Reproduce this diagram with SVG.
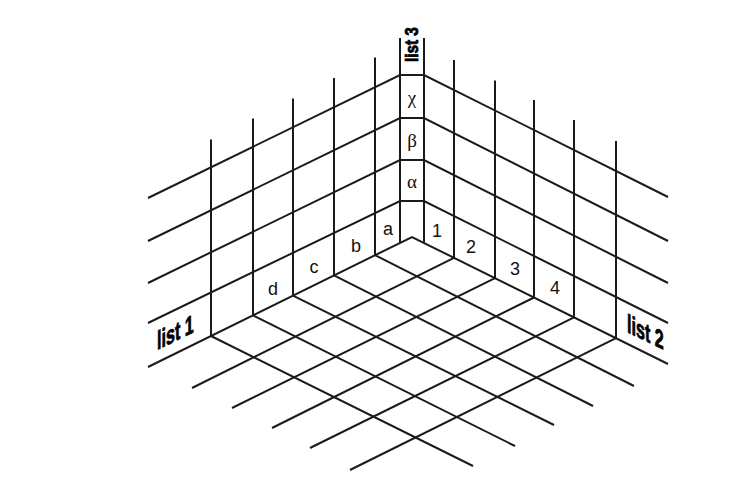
<svg xmlns="http://www.w3.org/2000/svg" width="754" height="497" viewBox="0 0 754 497">
<style>
.ln{fill:none;stroke:#1a1a1a;stroke-width:2;stroke-linejoin:miter}
.lab{font-family:"Liberation Sans",Arial,sans-serif;font-size:18px;fill:#111;text-anchor:middle}
.grk{font-family:"Liberation Serif","Times New Roman",serif;font-size:19px;fill:#111;text-anchor:middle}
.lst{font-family:"Liberation Sans",Arial,sans-serif;font-weight:bold;fill:#000;stroke:#000;stroke-width:0.8}
</style>
<rect width="754" height="497" fill="#fff"/>
<g id="connectors">
<g id="floor" class="ln">
<polyline points="148,367 412,237 668,364"/>
<line x1="375" y1="255.2" x2="634" y2="386"/>
<line x1="334" y1="275.4" x2="593" y2="406"/>
<line x1="293" y1="295.6" x2="554" y2="425"/>
<line x1="253" y1="315.4" x2="515" y2="446"/>
<line x1="211" y1="336" x2="473" y2="466"/>
<line x1="454" y1="257.8" x2="192" y2="388"/>
<line x1="495" y1="278.2" x2="232" y2="408"/>
<line x1="534" y1="297.5" x2="272" y2="428"/>
<line x1="574" y1="317.4" x2="310" y2="448"/>
<line x1="616" y1="338.2" x2="350" y2="470"/>
</g>
<g id="walls" class="ln">
<polyline points="148,198 400,75 424,75 668,197"/>
<polyline points="148,241 400,118 424,118 668,241"/>
<polyline points="148,283 400,160 424,160 668,283"/>
<polyline points="148,323 400,201 424,201 668,323"/>
<line x1="211" y1="139.5" x2="211" y2="336"/>
<line x1="253" y1="118.5" x2="253" y2="315.4"/>
<line x1="293" y1="98.5" x2="293" y2="295.6"/>
<line x1="334" y1="78" x2="334" y2="275.4"/>
<line x1="375" y1="57.5" x2="375" y2="255.2"/>
<line x1="400" y1="38" x2="400" y2="243"/>
<line x1="424" y1="38" x2="424" y2="243"/>
<line x1="454" y1="60" x2="454" y2="257.8"/>
<line x1="495" y1="80.5" x2="495" y2="278.2"/>
<line x1="534" y1="100" x2="534" y2="297.5"/>
<line x1="574" y1="120" x2="574" y2="317.4"/>
<line x1="616" y1="141" x2="616" y2="338.2"/>
</g>
</g>
<g id="list1-labels">
<text class="lab" x="273" y="295">d</text>
<text class="lab" x="314" y="273">c</text>
<text class="lab" x="356" y="251.5">b</text>
<text class="lab" x="388" y="235">a</text>
</g>
<g id="list2-labels">
<text class="lab" x="437" y="236.5">1</text>
<text class="lab" x="471" y="252.5">2</text>
<text class="lab" x="515" y="275">3</text>
<text class="lab" x="555" y="294">4</text>
</g>
<g id="list3-labels">
<text class="grk" x="412" y="188">α</text>
<text class="grk" x="412" y="147">β</text>
<text class="grk" x="412" y="104">χ</text>
</g>
<g id="list1"><text class="lst" font-size="26" transform="translate(157,350) skewY(-26) scale(0.62,1)">list 1</text></g>
<g id="list2"><text class="lst" font-size="26" transform="translate(627,332) skewY(26) scale(0.62,1)">list 2</text></g>
<g id="list3"><text class="lst" font-size="18" transform="translate(418,62) rotate(-90) scale(0.85,1)">list 3</text></g>
</svg>
